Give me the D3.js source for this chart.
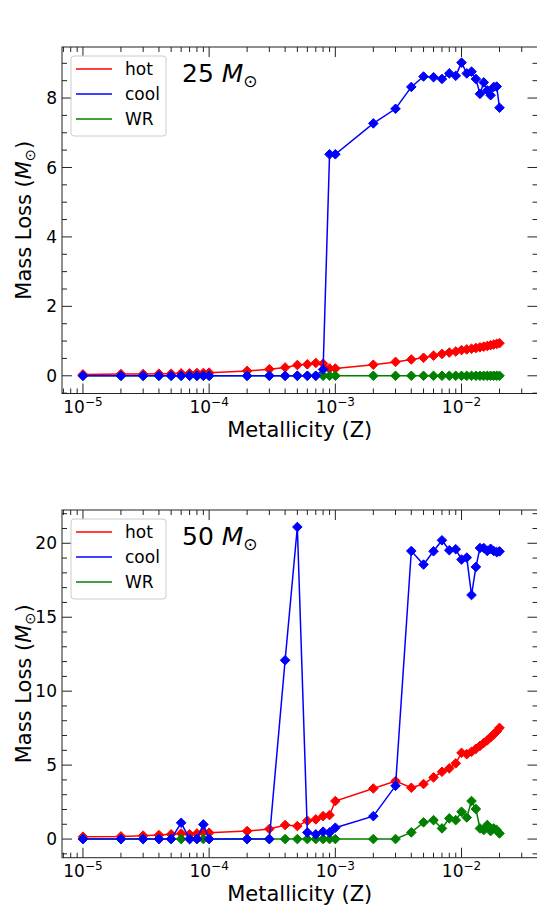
<!DOCTYPE html>
<html>
<head>
<meta charset="utf-8">
<script src="https://cdn.jsdelivr.net/npm/d3@7"></script>
<style>
  body { margin: 0; background: #fff; }
  svg { display: block; font-family: "DejaVu Sans", sans-serif; }
</style>
</head>
<body>
<svg id="chart" width="537" height="910"></svg>
<script>
// metallicity grid (x values)
var metallicity = [
  1e-5, 2e-5, 3e-5, 4e-5, 5e-5, 6e-5, 7e-5, 8e-5, 9e-5,
  1e-4, 2e-4, 3e-4, 4e-4, 5e-4, 6e-4, 7e-4, 8e-4, 9e-4,
  1e-3, 2e-3, 3e-3, 4e-3, 5e-3, 6e-3, 7e-3, 8e-3, 9e-3,
  0.010, 0.011, 0.012, 0.013, 0.014, 0.015, 0.016, 0.017, 0.018, 0.019, 0.020
];

// 25 Msun
var hot25 = [
  0.04, 0.05, 0.05, 0.06, 0.06, 0.07, 0.07, 0.08, 0.08,
  0.09, 0.14, 0.19, 0.24, 0.31, 0.33, 0.37, 0.35, 0.21,
  0.21, 0.32, 0.40, 0.47, 0.52, 0.58, 0.63, 0.67, 0.70,
  0.74, 0.76, 0.78, 0.80, 0.82, 0.84, 0.86, 0.88, 0.90, 0.92, 0.94
];
var cool25 = [
  0, 0, 0, 0, 0, 0, 0, 0, 0,
  0, 0, 0, 0, 0, 0, 0, 0.18, 6.38,
  6.38, 7.27, 7.69, 8.32, 8.62, 8.60, 8.55, 8.71, 8.64,
  9.02, 8.71, 8.76, 8.55, 8.12, 8.45, 8.22, 8.08, 8.32, 8.33, 7.72
];
var wr25 = [
  0, 0, 0, 0, 0, 0, 0, 0, 0,
  0, 0, 0, 0, 0, 0, 0, 0, 0,
  0, 0, 0, 0, 0, 0, 0, 0, 0,
  0, 0, 0, 0, 0, 0, 0, 0, 0, 0, 0
];

// 50 Msun
var hot50 = [
  0.16, 0.18, 0.23, 0.27, 0.32, 0.38, 0.32, 0.38, 0.47,
  0.43, 0.54, 0.68, 0.95, 0.88, 1.24, 1.33, 1.55, 1.62,
  2.57, 3.42, 3.92, 3.47, 3.72, 4.17, 4.55, 4.78, 5.12,
  5.83, 5.74, 5.90, 6.10, 6.30, 6.50, 6.68, 6.88, 7.07, 7.28, 7.52
];
var cool50 = [
  0, 0, 0, 0, 0, 1.10, 0, 0, 0.99,
  0, 0, 0, 12.09, 21.1, 0.45, 0.32, 0.50, 0.45,
  0.77, 1.55, 3.60, 19.48, 18.56, 19.46, 20.2, 19.53, 19.6,
  18.9, 19.03, 16.5, 18.4, 19.68, 19.68, 19.48, 19.63, 19.48, 19.4, 19.45
];
var wr50 = [
  0, 0, 0, 0, 0, 0, 0, 0, 0,
  0, 0, 0, 0, 0, 0, 0, 0, 0,
  0, 0, 0, 0.45, 1.13, 1.28, 0.72, 1.40, 1.28,
  1.85, 1.46, 2.57, 2.03, 0.72, 0.61, 0.95, 0.54, 0.72, 0.61, 0.38
];

var xTickExps = [-5, -4, -3, -2];
var yTicks25 = [0, 2, 4, 6, 8];
var yTicks50 = [0, 5, 10, 15, 20];
var legendNames = ["hot", "cool", "WR"];
var legendColors = ["#ff0000", "#0000ff", "#008000"];

var svg = d3.select("#chart");
svg.append("rect").attr("width", 537).attr("height", 910).attr("fill", "#fff");

var left = 62, right = 537.5;
var x = d3.scaleLog().domain([Math.pow(10, -5.166), 0.04]).range([left, right]);

var diamond = "M0,-4.8L4.8,0L0,4.8L-4.8,0Z";

function drawPanel(opt) {
  var y = d3.scaleLinear().domain(opt.yDomain).range([opt.bottom, opt.top]);
  var g = svg.append("g");

  // series: hot, WR, cool (cool on top)
  var order = [0, 2, 1];
  order.forEach(function(k) {
    var vals = opt.series[k];
    var pts = metallicity.map(function(z, i) { return [x(z), y(vals[i])]; });
    var sg = g.append("g");
    sg.append("path")
      .attr("d", d3.line()(pts))
      .attr("fill", "none")
      .attr("stroke", legendColors[k])
      .attr("stroke-width", 1.5);
    sg.selectAll("path.m")
      .data(pts)
      .enter().append("path")
        .attr("class", "m")
        .attr("d", diamond)
        .attr("transform", function(p) { return "translate(" + p[0] + "," + p[1] + ")"; })
        .attr("fill", legendColors[k])
        .attr("stroke", legendColors[k])
        .attr("stroke-width", 1);
  });

  // frame
  g.append("rect")
    .attr("x", left).attr("y", opt.top)
    .attr("width", right - left).attr("height", opt.bottom - opt.top)
    .attr("fill", "none").attr("stroke", "#222").attr("stroke-width", 1);

  var ticks = g.append("g").attr("stroke", "#222").attr("stroke-width", 1);

  // x ticks, major and minor, inward on bottom and top
  var xd = x.domain();
  for (var e = -6; e <= -1; e++) {
    for (var m = 1; m <= 9; m++) {
      var v = m * Math.pow(10, e);
      if (v < xd[0] || v > xd[1]) continue;
      var len = m === 1 ? 10 : 5;
      var px = x(v);
      ticks.append("line").attr("x1", px).attr("x2", px)
        .attr("y1", opt.bottom).attr("y2", opt.bottom - len);
      ticks.append("line").attr("x1", px).attr("x2", px)
        .attr("y1", opt.top).attr("y2", opt.top + len);
    }
  }

  // y ticks
  var yd = opt.yDomain;
  var minors = d3.range(Math.ceil(yd[0] / opt.minor) * opt.minor, yd[1], opt.minor);
  minors.forEach(function(v) {
    var isMajor = opt.yTicks.indexOf(Math.round(v * 100) / 100) >= 0;
    var len = isMajor ? 10 : 5;
    var py = y(v);
    ticks.append("line").attr("x1", left).attr("x2", left + len).attr("y1", py).attr("y2", py);
    ticks.append("line").attr("x1", right).attr("x2", right - len).attr("y1", py).attr("y2", py);
  });

  // y tick labels
  g.selectAll("text.yt")
    .data(opt.yTicks)
    .enter().append("text")
      .attr("class", "yt")
      .attr("x", left - 5)
      .attr("y", function(d) { return y(d); })
      .attr("dy", "0.36em")
      .attr("text-anchor", "end")
      .attr("font-size", 17)
      .text(function(d) { return d; });

  // x tick labels 10^e
  xTickExps.forEach(function(e) {
    var t = g.append("text")
      .attr("x", x(Math.pow(10, e)))
      .attr("y", opt.bottom + 19)
      .attr("text-anchor", "middle")
      .attr("font-size", 17);
    t.append("tspan").text("10");
    t.append("tspan").attr("dy", -7).attr("font-size", 12).text("\u2212" + (-e));
  });

  // x label
  g.append("text")
    .attr("x", (left + right) / 2)
    .attr("y", opt.bottom + 43)
    .attr("text-anchor", "middle")
    .attr("font-size", 21)
    .text("Metallicity (Z)");

  // y label
  var yl = g.append("text")
    .attr("transform", "translate(31," + (opt.top + opt.bottom) / 2 + ") rotate(-90)")
    .attr("text-anchor", "middle")
    .attr("font-size", 21);
  yl.append("tspan").text("Mass Loss (");
  yl.append("tspan").attr("font-style", "italic").text("M");
  yl.append("tspan").attr("font-size", 14.5).attr("dy", 4).text("\u2299");
  yl.append("tspan").attr("dy", -4).text(")");

  // title
  var tt = g.append("text")
    .attr("x", 182)
    .attr("y", opt.top + 35)
    .attr("font-size", 25);
  tt.append("tspan").text(opt.mass + " ");
  tt.append("tspan").attr("font-style", "italic").text("M");
  tt.append("tspan").attr("font-size", 17).attr("dy", 5).text("\u2299");

  // legend
  var lg = g.append("g").attr("transform", "translate(71," + (opt.top + 9) + ")");
  lg.append("rect")
    .attr("width", 95).attr("height", 80)
    .attr("rx", 3).attr("ry", 3)
    .attr("fill", "#fff").attr("fill-opacity", 0.8)
    .attr("stroke", "#cccccc").attr("stroke-width", 1);
  var items = lg.selectAll("g.item")
    .data(legendNames)
    .enter().append("g")
      .attr("class", "item")
      .attr("transform", function(d, i) { return "translate(0," + (13 + i * 25) + ")"; });
  items.append("line")
    .attr("x1", 5).attr("x2", 41)
    .attr("stroke", function(d, i) { return legendColors[i]; })
    .attr("stroke-width", 1.5);
  items.append("text")
    .attr("x", 54)
    .attr("dy", "0.36em")
    .attr("font-size", 17)
    .text(function(d) { return d; });
}

drawPanel({
  top: 47, bottom: 393.5, yDomain: [-0.51, 9.47],
  yTicks: yTicks25, minor: 0.5, mass: "25",
  series: [hot25, cool25, wr25]
});

drawPanel({
  top: 510, bottom: 857.7, yDomain: [-1.26, 22.25],
  yTicks: yTicks50, minor: 1, mass: "50",
  series: [hot50, cool50, wr50]
});
</script>
</body>
</html>
